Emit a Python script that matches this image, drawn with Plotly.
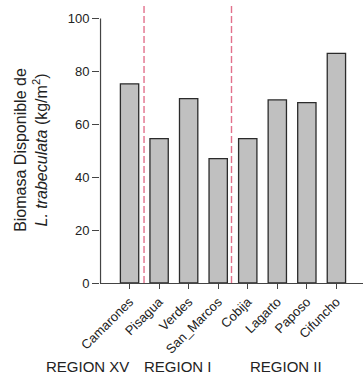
import plotly.graph_objects as go

sites = ["Camarones", "Pisagua", "Verdes", "San_Marcos", "Cobija", "Lagarto", "Paposo", "Cifuncho"]
biomasa = [75.3, 54.6, 69.7, 47.0, 54.6, 69.2, 68.2, 86.8]
regions = ["REGION XV", "REGION I", "REGION II"]
region_centers = [-1.43, 1.64, 5.30]
dividers = [0.49, 3.45]
yticks = [0, 20, 40, 60, 80, 100]

xpos = list(range(len(sites)))
font = "Liberation Sans, Arial, sans-serif"
xr = [-1.0, 7.9]

fig = go.Figure()
fig.add_trace(go.Bar(
    x=xpos, y=biomasa, width=0.62,
    marker=dict(color="#c0c0c0", line=dict(color="#2b2b2b", width=1.3)),
))

shapes = []
for d in dividers:
    shapes.append(dict(type="line", xref="x", yref="y", x0=d, x1=d, y0=0, y1=104.7,
                       line=dict(color="#e2718c", width=1.4, dash="7px,3px"), layer="above"))
# y axis line from 0 to 100
shapes.append(dict(type="line", xref="paper", yref="y", x0=0.002, x1=0.002, y0=0, y1=100,
                   line=dict(color="#444444", width=1.2)))
fig.update_layout(shapes=shapes)

annotations = []
for r, c in zip(regions, region_centers):
    annotations.append(dict(text=r, xref="paper", yref="paper",
                            x=(c - xr[0]) / (xr[1] - xr[0]), y=-0.30,
                            xanchor="center", yanchor="middle", showarrow=False,
                            font=dict(family=font, size=15, color="#222222")))
annotations.append(dict(
    text="Biomasa Disponible de<br><i>L. trabeculata</i> (kg/m<sup>2</sup>)",
    xref="paper", yref="paper", x=-0.262, y=0.481, textangle=-90,
    xanchor="center", yanchor="middle", showarrow=False,
    font=dict(family=font, size=16, color="#222222")))
fig.update_layout(annotations=annotations)

fig.update_layout(
    width=363, height=379,
    margin=dict(l=100, r=0, t=6, b=95.7, autoexpand=False),
    paper_bgcolor="white", plot_bgcolor="white",
    showlegend=False,
    xaxis=dict(range=xr, tickvals=xpos, ticktext=sites, tickangle=-45, automargin=False,
               showline=True, linecolor="#444444", linewidth=1.2,
               ticks="outside", ticklen=5, tickcolor="#444444", tickwidth=1,
               showgrid=False, zeroline=False,
               tickfont=dict(family=font, size=13, color="#222222")),
    yaxis=dict(range=[0, 104.7], tickvals=yticks, showline=False, automargin=False,
               ticks="outside", ticklen=7, tickcolor="#444444", tickwidth=1,
               showgrid=False, zeroline=False,
               tickfont=dict(family=font, size=13, color="#222222")),
)

fig.write_html("out.html", config={"displayModeBar": False},
               post_script="document.body.style.margin='0';document.body.style.padding='0';")
